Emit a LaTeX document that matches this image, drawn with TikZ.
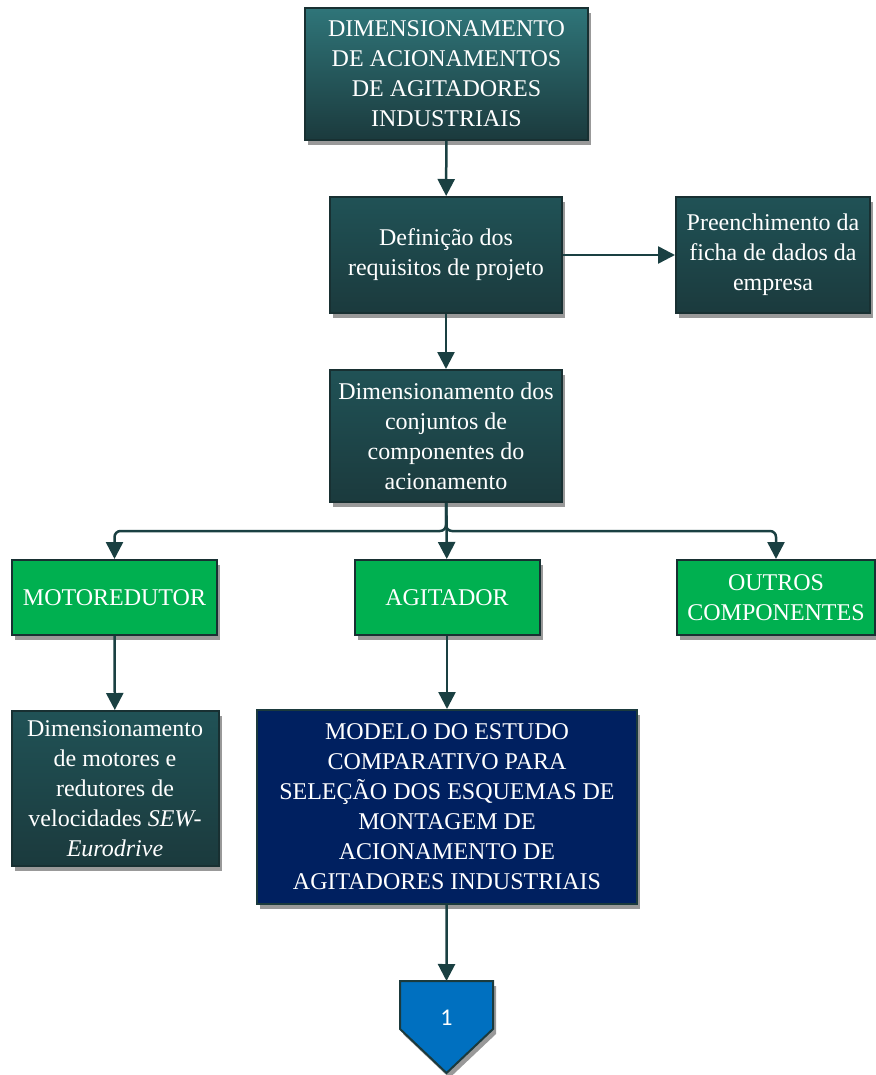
\documentclass[tikz,border=0pt]{standalone}
\usepackage{fontspec}
\setmainfont{Liberation Serif}
\newfontfamily\calibfont{Carlito}
\usetikzlibrary{arrows.meta,shadows}

\definecolor{tealtop}{RGB}{47,117,121}
\definecolor{tealmid}{RGB}{32,82,86}
\definecolor{tealbot}{RGB}{27,58,61}
\definecolor{edgedark}{RGB}{24,48,50}
\definecolor{boxgreen}{RGB}{0,176,80}
\definecolor{boxnavy}{RGB}{0,32,96}
\definecolor{offblue}{RGB}{0,112,192}
\definecolor{linkcol}{RGB}{26,64,66}

\tikzset{
    basebox/.style={draw=edgedark, line width=2pt, text=white, align=center,
        inner sep=0pt, font=\fontsize{24}{30}\selectfont,
        drop shadow={shadow xshift=3pt, shadow yshift=-5pt, opacity=0.4, fill=black}},
    tealbox/.style={basebox, top color=tealmid, bottom color=tealbot},
    headbox/.style={basebox, top color=tealtop, bottom color=tealbot},
    greenbox/.style={basebox, fill=boxgreen},
    navybox/.style={basebox, fill=boxnavy, draw=tealbot},
    link/.style={draw=linkcol, line width=2.5pt, -{Triangle[length=17pt,width=17pt]}}
}

\begin{document}
\begin{tikzpicture}[x=1pt,y=-1pt]
\useasboundingbox (0,0) rectangle (875,1075);

% caixas principais
\node[headbox, minimum width=283pt, minimum height=132pt] (dimtop) at (446.5,74)
    {DIMENSIONAMENTO\\DE ACIONAMENTOS\\DE AGITADORES\\INDUSTRIAIS};
\node[tealbox, minimum width=232pt, minimum height=116pt] (requisitos) at (446,255)
    {Definição dos\\requisitos de projeto};
\node[tealbox, minimum width=194pt, minimum height=116pt] (ficha) at (773,255)
    {Preenchimento da\\ficha de dados da\\empresa};
\node[tealbox, minimum width=232pt, minimum height=132pt] (conjuntos) at (446,436)
    {Dimensionamento dos\\conjuntos de\\componentes do\\acionamento};

% conjuntos
\node[greenbox, minimum width=205pt, minimum height=75pt] (motored) at (114.5,597.5) {MOTOREDUTOR};
\node[greenbox, minimum width=185pt, minimum height=75pt] (agitador) at (447,597.5) {AGITADOR};
\node[greenbox, minimum width=198pt, minimum height=75pt] (outros) at (776,597.5) {OUTROS\\COMPONENTES};

\node[tealbox, minimum width=207pt, minimum height=155pt] (motores) at (115,788.5)
    {Dimensionamento\\de motores e\\redutores de\\velocidades \textit{SEW-}\\\textit{Eurodrive}};
\node[navybox, minimum width=380pt, minimum height=194pt] (modelo) at (447,807)
    {MODELO DO ESTUDO\\COMPARATIVO PARA\\SELEÇÃO DOS ESQUEMAS DE\\MONTAGEM DE\\ACIONAMENTO DE\\AGITADORES INDUSTRIAIS};

% conector de pagina
\fill[black, opacity=0.4] (403,986) -- (496,986) -- (496,1034) -- (449.5,1078) -- (403,1034) -- cycle;
\filldraw[fill=offblue, draw=tealbot, line width=2pt]
    (400,981) -- (493,981) -- (493,1029) -- (446.5,1073) -- (400,1029) -- cycle;
\coordinate (pagetop) at (446.5,981);
\node[text=white, font=\calibfont\fontsize{24}{28}\selectfont] (pageone) at (446.5,1018) {1};

% ligacoes
\draw[link] (dimtop) -- (requisitos);
\draw[link] (requisitos) -- (ficha);
\draw[link] (requisitos) -- (conjuntos);
\draw[link, rounded corners=6pt] (conjuntos.south) -- ++(0,28) -| (motored.north);
\draw[link, rounded corners=6pt] (conjuntos.south) -- ++(0,28) -| (outros.north);
\draw[link] (conjuntos) -- (agitador);
\draw[link] (motored) -- (motores);
\draw[link] (agitador) -- (modelo);
\draw[link] (modelo) -- (pagetop);

\end{tikzpicture}
\end{document}
